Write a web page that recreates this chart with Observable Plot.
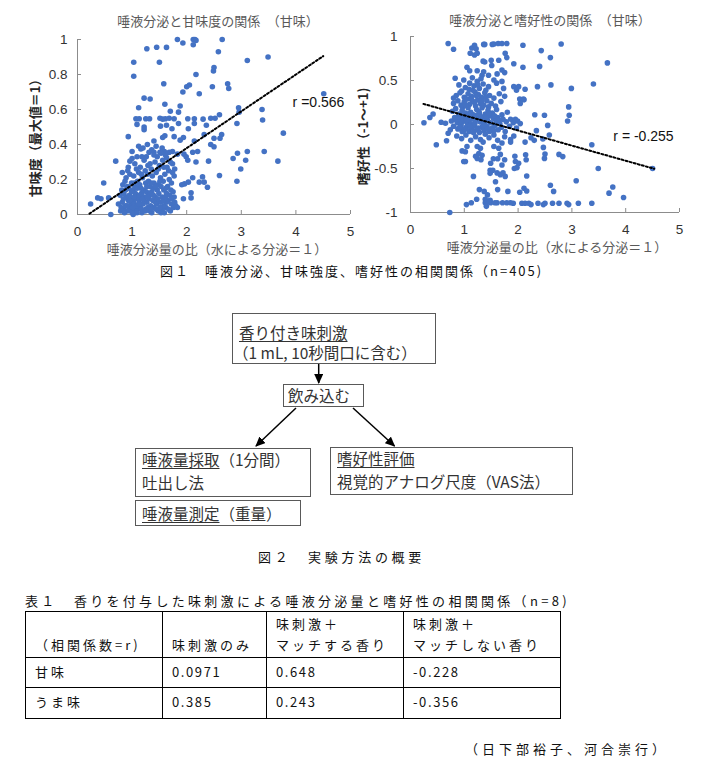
<!DOCTYPE html>
<html><head><meta charset="utf-8">
<script src="https://cdn.jsdelivr.net/npm/d3@7"></script>
<script src="https://cdn.jsdelivr.net/npm/@observablehq/plot@0.6"></script>
<style>
body{margin:0;background:#fff;}
#page{position:relative;width:703px;height:774px;overflow:hidden;font-family:"Noto Sans CJK JP",sans-serif;color:#000;background:#fff}
.abs{position:absolute;white-space:nowrap}
.cap{font-size:13px;line-height:16px;color:#111}
.box{position:absolute;box-sizing:border-box;border:1px solid #595959;background:#fff;font-size:15.5px;color:#333;white-space:nowrap}
.box u{text-decoration-thickness:1px;text-underline-offset:2px}
table.t{position:absolute;left:25px;top:611px;border-collapse:collapse;font-size:13px;color:#111}
table.t td{border:1px solid #000;padding:0 0 0 9px;letter-spacing:3px;white-space:nowrap}
table.t td.num{letter-spacing:1.6px}
</style></head>
<body><div id="page"></div>
<script>
// ---------- data ----------
const xTicks = [0, 1, 2, 3, 4, 5];
const sweetTicks = [0, 0.2, 0.4, 0.6, 0.8, 1];
const prefTicks = [-1, -0.5, 0, 0.5, 1];
const xLabel = "唾液分泌量の比（水による分泌＝１）";

// saliva ratio vs sweetness (x, y)
const sweetPoints = [
[1.83,1.0],[1.93,0.98],[2.12,1.0],[2.15,1.0],[2.17,0.995],[2.12,0.97],[2.65,1.0],
[1.27,0.947],[1.45,0.956],[1.63,0.955],[2.58,0.93],
[1.03,0.87],[1.50,0.87],[3.11,0.88],[3.49,0.90],
[1.03,0.79],[2.50,0.84],[2.49,0.82],[2.17,0.80],
[1.58,0.747],[2.05,0.74],[2.00,0.73],[2.75,0.747],[2.77,0.72],[2.47,0.73],[1.93,0.70],[2.23,0.69],[4.51,0.69],
[1.22,0.665],[1.33,0.66],[1.12,0.61],[1.60,0.63],[1.88,0.62],[1.70,0.59],[1.85,0.585],[2.95,0.61],[2.96,0.585],[3.38,0.60],[3.39,0.54],[2.60,0.57],
[1.07,0.547],[1.13,0.547],[1.25,0.547],[1.32,0.547],[1.51,0.55],[1.56,0.545],[1.61,0.547],[1.68,0.55],[1.77,0.547],[2.02,0.547],[2.14,0.547],[2.30,0.545],[2.44,0.55],[2.52,0.55],
[1.09,0.515],[1.22,0.50],[1.52,0.505],[1.63,0.51],[1.73,0.49],[1.85,0.52],[2.03,0.49],[2.14,0.52],[2.36,0.51],[2.92,0.52],[0.93,0.445],[3.77,0.465],
[1.22,0.485],[1.40,0.42],[1.60,0.45],[1.56,0.44],[1.77,0.445],[1.94,0.44],[1.88,0.425],[2.32,0.457],[2.44,0.40],[2.50,0.436],[2.61,0.436],[2.64,0.457],[2.50,0.387],[2.14,0.42],
[1.31,0.356],[1.40,0.356],[1.51,0.356],[1.59,0.36],[1.68,0.356],[1.74,0.36],[1.83,0.345],[1.95,0.345],[2.11,0.356],[2.20,0.36],
[3.42,0.36],[3.11,0.36],[2.93,0.35],[2.85,0.32],[3.08,0.31],[2.99,0.26],[3.67,0.305],[0.70,0.305],[0.96,0.305],[1.09,0.33],[1.16,0.375],[1.12,0.39],
[2.40,0.305],[1.99,0.33],[2.02,0.31],[2.17,0.30],[1.63,0.325],[1.74,0.29],
[2.92,0.19],[2.60,0.223],[2.29,0.215],[2.11,0.21],[2.23,0.185],[2.32,0.185],[2.38,0.156],[2.03,0.185],[1.96,0.175],[1.91,0.17],[0.48,0.18],
[2.08,0.124],[2.08,0.095],[1.94,0.09],[1.77,0.10],[1.83,0.04],
[0.24,0.06],[0.37,0.095],[0.43,0.09],[0.57,0.095],[0.61,0.0],[1.02,0.0],
[0.85,0.03],[0.92,0.02],[0.97,0.04],[1.05,0.02],[1.10,0.03],[1.18,0.01],[1.25,0.03],[1.32,0.02],[1.40,0.04],[1.48,0.02],[1.55,0.03],[1.62,0.04],[1.70,0.02],[0.80,0.04],[1.00,0.01],[1.15,0.04],[1.36,0.01],[1.59,0.01],[1.76,0.04],
[0.75,0.06],[0.82,0.07],[0.88,0.05],[0.93,0.08],[0.98,0.06],[1.03,0.07],[1.08,0.05],[1.13,0.08],[1.20,0.06],[1.27,0.07],[1.34,0.05],[1.38,0.08],[1.45,0.06],[1.52,0.07],[1.58,0.05],[1.66,0.08],[1.72,0.06],[1.80,0.05],[0.90,0.10],[1.00,0.09],
[0.78,0.11],[0.85,0.12],[0.95,0.11],[1.06,0.12],[1.11,0.10],[1.17,0.12],[1.23,0.10],[1.30,0.11],[1.36,0.13],[1.42,0.10],[1.49,0.12],[1.55,0.10],[1.63,0.12],[1.69,0.11],[1.75,0.13],[0.88,0.14],[1.02,0.14],[1.21,0.14],[1.46,0.14],
[0.83,0.17],[0.91,0.16],[0.99,0.18],[1.05,0.16],[1.14,0.17],[1.25,0.18],[1.33,0.16],[1.40,0.18],[1.48,0.17],[1.57,0.19],[1.65,0.16],[1.72,0.18],[0.87,0.19],[1.10,0.19],[1.30,0.19],
[0.89,0.21],[0.96,0.23],[1.03,0.22],[1.12,0.24],[1.19,0.21],[1.28,0.23],[1.37,0.22],[1.44,0.24],[1.52,0.21],[1.60,0.23],[1.67,0.25],[1.77,0.22],[0.82,0.24],[1.24,0.25],
[0.93,0.27],[1.05,0.29],[1.15,0.27],[1.22,0.31],[1.29,0.28],[1.35,0.26],[1.42,0.30],[1.50,0.28],[1.56,0.31],[1.64,0.27],[1.70,0.30],[1.78,0.26],[1.00,0.32],[1.26,0.33],[1.46,0.33],[1.61,0.34],
[1.20,0.38],[1.28,0.40],[1.36,0.37],[1.44,0.39],[1.55,0.38],[1.00,0.36],
[0.95,0.03],[1.07,0.09],[1.12,0.06],[1.17,0.03],[1.22,0.08],[1.29,0.04],[1.31,0.09],[1.43,0.07],[0.99,0.13],[1.09,0.15],[1.26,0.13],[1.51,0.04],[1.63,0.07],[1.39,0.15],[1.58,0.14],[0.84,0.09],[0.79,0.02],[1.33,0.12],[1.53,0.16],[1.68,0.20],
[0.86,0.01],[0.91,0.05],[0.96,0.08],[1.01,0.04],[1.04,0.10],[1.09,0.01],[1.14,0.11],[1.19,0.09],[1.24,0.02],[1.28,0.10],[1.35,0.03],[1.39,0.11],[1.44,0.03],[1.47,0.09],[1.53,0.01],[1.57,0.08],[1.61,0.10],[1.67,0.03],[1.73,0.09],[1.78,0.07],
[0.81,0.14],[0.94,0.15],[1.04,0.18],[1.16,0.15],[1.27,0.16],[1.35,0.18],[1.43,0.16],[1.51,0.19],[1.62,0.15],[1.71,0.14],[0.92,0.25],[1.08,0.26],[1.17,0.23],[1.33,0.29],[1.48,0.26],[1.58,0.27],[1.74,0.24],[1.40,0.34],[1.53,0.35],[1.18,0.33]
];

// saliva ratio vs preference (x, y)
const prefPoints = [
[0.70,0.92],[0.80,0.855],[1.14,0.87],[1.19,0.90],[1.22,0.86],[1.36,0.91],[1.38,0.91],[1.52,0.91],[1.55,0.915],[1.63,0.92],[1.70,0.92],[1.79,0.92],[2.09,0.90],[2.80,0.915],
[1.11,0.81],[1.19,0.79],[1.24,0.81],[1.76,0.81],[1.79,0.76],[2.43,0.84],[2.60,0.76],
[1.35,0.72],[1.38,0.71],[1.50,0.73],[1.64,0.73],[1.51,0.67],[1.70,0.62],[1.05,0.65],[1.10,0.61],[1.24,0.61],[1.33,0.56],[1.92,0.69],[2.09,0.65],[2.40,0.66],[3.66,0.70],
[1.36,0.60],[1.61,0.575],[1.75,0.59],[0.83,0.525],[0.99,0.505],[1.24,0.49],[1.55,0.505],[1.70,0.49],[1.73,0.41],[1.92,0.43],[2.01,0.43],[2.13,0.40],[1.97,0.39],[2.36,0.43],[2.61,0.45],[2.99,0.41],[3.40,0.46],[2.03,0.29],[2.10,0.29],[2.11,0.28],[2.04,0.24],
[2.94,0.20],[2.95,0.105],[2.92,0.04],[2.31,0.11],[2.49,0.105],[2.55,-0.01],[2.34,-0.07],[2.58,-0.12],[2.46,-0.165],[3.37,-0.23],[2.47,-0.26],[2.50,-0.335],[2.49,-0.385],[2.76,-0.34],[2.83,-0.365],
[1.86,0.06],[1.95,0.06],[1.99,0.04],[2.04,0.01],[1.86,-0.20],[1.92,-0.13],[2.13,-0.20],[2.24,-0.15],[2.30,-0.18],
[1.95,-0.42],[1.98,-0.49],[2.01,-0.44],[1.93,-0.50],[2.15,-0.40],[2.14,-0.345],[2.16,-0.585],[2.11,-0.725],[2.16,-0.755],[2.03,-0.77],
[2.60,-0.69],[2.66,-0.76],[3.08,-0.64],[3.49,-0.50],[4.50,-0.50],[3.76,-0.71],[3.69,-0.78],[3.96,-0.83],
[1.91,-0.895],[2.07,-0.895],[2.13,-0.895],[2.20,-0.895],[2.24,-0.91],[2.37,-0.895],[2.47,-0.91],[2.50,-0.895],[2.64,-0.895],[2.76,-0.895],[2.91,-0.895],[2.94,-0.91],[3.12,-0.895],[3.37,-0.895],
[1.39,-0.89],[1.49,-0.89],[1.61,-0.89],[1.71,-0.89],[1.79,-0.89],[1.41,-0.93],[1.04,-0.91],[1.13,-0.89],[1.23,-0.85],[0.73,-1.0],
[0.96,-0.30],[1.02,-0.31],[0.99,-0.42],[1.02,-0.42],[1.17,-0.59],[1.05,-0.25],[1.24,-0.25],[1.30,-0.27],[1.27,-0.33],[1.33,-0.35],[1.24,-0.385],[1.31,-0.40],[1.21,-0.36],[1.48,-0.52],[1.48,-0.555],[1.53,-0.52],[1.49,-0.44],[1.54,-0.39],[1.64,-0.27],[1.67,-0.34],[1.62,-0.39],[1.70,-0.46],[1.67,-0.57],[1.58,-0.65],[1.62,-0.74],[1.76,-0.59],[1.81,-0.76],[1.28,-0.74],[1.37,-0.76],[1.43,-0.80],[1.48,-0.86],[1.39,-0.85],[1.46,-0.88],[1.57,-0.89],[1.86,-0.89],[1.72,-0.55],[1.61,-0.55],[1.75,-0.40],[1.94,-0.36],[1.55,-0.25],[1.70,-0.21],[1.86,-0.17],
[0.48,-0.23],[0.67,-0.185],[0.25,0.02],[0.36,0.08],[0.42,0.12],[0.57,0.025],[0.65,0.015],[0.70,-0.10],[0.74,-0.06],[0.96,-0.08],
[0.90,0.45],[1.02,0.42],[1.10,0.47],[1.18,0.44],[1.28,0.41],[1.35,0.46],[1.45,0.43],[1.60,0.47],[0.95,0.38],[1.40,0.39],
[0.85,0.33],[0.92,0.36],[1.00,0.31],[1.07,0.35],[1.13,0.32],[1.20,0.37],[1.26,0.34],[1.32,0.31],[1.38,0.36],[1.47,0.33],[1.55,0.30],[1.65,0.35],[1.75,0.32],[0.80,0.30],[1.16,0.39],
[0.80,0.24],[0.88,0.27],[0.94,0.22],[1.00,0.26],[1.05,0.29],[1.10,0.23],[1.15,0.27],[1.21,0.21],[1.25,0.28],[1.30,0.24],[1.36,0.22],[1.42,0.27],[1.50,0.24],[1.58,0.21],[1.68,0.26],[0.97,0.20],[1.19,0.25],[1.45,0.20],
[0.78,0.15],[0.84,0.18],[0.90,0.12],[0.96,0.16],[1.02,0.13],[1.07,0.19],[1.12,0.14],[1.17,0.11],[1.23,0.17],[1.28,0.13],[1.33,0.19],[1.39,0.12],[1.44,0.16],[1.52,0.13],[1.60,0.17],[1.70,0.11],[1.80,0.14],[1.05,0.10],[1.26,0.10],[1.48,0.10],
[0.76,0.04],[0.82,0.08],[0.87,0.02],[0.92,0.06],[0.97,0.03],[1.01,0.07],[1.06,0.01],[1.10,0.05],[1.15,0.08],[1.20,0.02],[1.24,0.06],[1.29,0.03],[1.34,0.07],[1.38,0.01],[1.43,0.05],[1.49,0.02],[1.54,0.07],[1.59,0.04],[1.66,0.01],[1.72,0.06],[1.78,0.03],[0.85,0.05],[1.13,0.00],[1.31,0.09],[1.62,0.08],
[0.80,-0.02],[0.88,-0.05],[0.94,-0.01],[0.99,-0.07],[1.04,-0.03],[1.09,-0.08],[1.14,-0.04],[1.19,-0.01],[1.23,-0.06],[1.28,-0.09],[1.33,-0.03],[1.37,-0.07],[1.42,-0.02],[1.47,-0.08],[1.52,-0.04],[1.57,-0.01],[1.63,-0.06],[1.69,-0.03],[1.76,-0.08],[1.84,-0.02],[1.91,0.02],[1.97,-0.04],
[0.86,-0.13],[0.95,-0.16],[1.03,-0.12],[1.12,-0.18],[1.21,-0.14],[1.30,-0.17],[1.39,-0.11],[1.46,-0.15],[1.55,-0.12],[1.62,-0.18],[1.75,-0.14],[1.35,-0.20],
[0.89,0.09],[0.95,0.10],[1.04,0.05],[1.08,0.12],[1.18,0.06],[1.22,0.10],[1.27,0.15],[1.36,0.04],[1.41,0.09],[1.46,0.13],[1.56,0.10],[1.65,0.05],[0.92,-0.03],[1.01,-0.05],[1.11,-0.02],[1.17,-0.09],[1.26,-0.04],[1.35,-0.01],[1.44,-0.05],[1.55,-0.07],
[1.03,0.22],[1.13,0.29],[1.22,0.33],[1.33,0.27],[1.40,0.31],[1.09,0.40],[1.25,0.45],[1.31,0.52],[1.15,0.53],[1.45,0.56]
];

// dotted trend lines
const sweetFit = [[0.22, 0.005], [4.5, 0.905]];
const prefFit = [[0.24, 0.234], [4.53, -0.503]];

// figure texts
const fig1Caption = "図１　唾液分泌、甘味強度、嗜好性の相関関係（n=405)";
const fig2Caption = "図２　実験方法の概要";
const tableCaption = "表１　香りを付与した味刺激による唾液分泌量と嗜好性の相関関係（n=8)";
const credit = "（日下部裕子、河合崇行）";
const tableHeader = [["", "（相関係数=r)"], ["", "味刺激のみ"], ["味刺激＋", "マッチする香り"], ["味刺激＋", "マッチしない香り"]];
const tableRows = [["甘味", "0.0971", "0.648", "-0.228"], ["うま味", "0.385", "0.243", "-0.356"]];

// ---------- drawing ----------
const page = document.getElementById("page");
const axisGray = "#8c8c8c";
const cjk = "'Noto Sans CJK JP', sans-serif";

function scatter(o) {
  return Plot.plot({
    width: o.width, height: o.height,
    marginTop: o.mt, marginRight: o.mr, marginBottom: o.mb, marginLeft: o.ml,
    style: {fontFamily: "'Liberation Sans', Arial, 'Noto Sans CJK JP', sans-serif", fontSize: "13.5px", color: "#333", background: "transparent", overflow: "visible"},
    x: {domain: [0, 5]},
    y: {domain: o.yDomain},
    marks: [
      Plot.ruleX([0], {stroke: axisGray}),
      Plot.ruleY([o.yDomain[0]], {stroke: axisGray}),
      Plot.axisX({ticks: xTicks, tickSize: -4, tickPadding: 16, tickFormat: d => String(d), label: null, stroke: axisGray, fill: "#333"}),
      Plot.axisY({ticks: o.yTicks, tickSize: -4, tickPadding: o.yPad, tickFormat: d => String(d), label: null, stroke: axisGray, fill: "#333"}),
      Plot.dot(o.points, {x: d => d[0], y: d => d[1], r: 2.8, fill: "#4472C4"}),
      Plot.line(o.fit, {x: d => d[0], y: d => d[1], stroke: "#000", strokeWidth: 2, strokeDasharray: "2,2.2"}),
      Plot.text([o.rText], {text: d => d, x: o.rAt[0], y: o.rAt[1], textAnchor: "start", fontSize: 14, fill: "#111"}),
      Plot.text([o.title], {text: d => d, frameAnchor: "top", textAnchor: "middle", lineAnchor: "middle", dx: o.titleDx, dy: o.titleDy, fontSize: 13, fill: "#595959", fontFamily: cjk}),
      Plot.text([xLabel], {text: d => d, frameAnchor: "bottom", textAnchor: "middle", lineAnchor: "middle", dx: o.xLabelDx, dy: 35, fontSize: 13, fill: "#595959", fontFamily: cjk}),
      Plot.text([o.yLabel], {text: d => d, frameAnchor: "left", textAnchor: "middle", lineAnchor: "middle", rotate: -90, dx: o.yLabelDx, dy: o.yLabelDy, fontSize: 13, fontWeight: "bold", fill: "#262626", fontFamily: cjk})
    ]
  });
}

function place(el, left, top) {
  const w = document.createElement("div");
  w.className = "abs";
  w.style.left = left + "px"; w.style.top = top + "px";
  w.appendChild(el);
  page.appendChild(w);
  return w;
}

place(scatter({
  width: 365, height: 262, mt: 39, mr: 15, mb: 48, ml: 77,
  yDomain: [0, 1], yTicks: sweetTicks, yPad: 14,
  points: sweetPoints, fit: sweetFit,
  rText: "r =0.566", rAt: [3.94, 0.64],
  title: "唾液分泌と甘味度の関係　（甘味）", titleDx: 4, titleDy: -18,
  xLabelDx: 3,
  yLabel: "甘味度（最大値＝1）", yLabelDx: -42, yLabelDy: 8
}), 0, 0);

place(scatter({
  width: 348, height: 262, mt: 36, mr: 24, mb: 50, ml: 55,
  yDomain: [-1, 1], yTicks: prefTicks, yPad: 17,
  points: prefPoints, fit: prefFit,
  rText: "r = -0.255", rAt: [3.77, -0.14],
  title: "唾液分泌と嗜好性の関係　（甘味）", titleDx: 5, titleDy: -16,
  xLabelDx: 12,
  yLabel: "嗜好性（-1～+1)", yLabelDx: -47, yLabelDy: 12
}), 355, 0);

function caption(text, left, top, spacing) {
  const d = document.createElement("div");
  d.className = "abs cap";
  d.style.left = left + "px"; d.style.top = top + "px";
  d.style.letterSpacing = spacing + "px";
  d.textContent = text;
  page.appendChild(d);
}
caption(fig1Caption, 160, 263, 2);
caption(fig2Caption, 258, 549, 3.7);
caption(tableCaption, 25, 593, 3.3);
caption(credit, 465, 741, 4);

// ---------- flow diagram ----------
function box(left, top, w, h, lines) {
  const d = document.createElement("div");
  d.className = "box";
  Object.assign(d.style, {left: left + "px", top: top + "px", width: w + "px", height: h + "px"});
  lines.forEach(l => {
    const r = document.createElement("div");
    Object.assign(r.style, {height: l.h + "px", lineHeight: l.h + "px", paddingLeft: l.pl + "px", marginTop: (l.mt || 0) + "px"});
    r.innerHTML = l.html;
    d.appendChild(r);
  });
  page.appendChild(d);
}
box(232, 313, 204, 51, [{html: "<u>香り付き味刺激</u>", h: 20, pl: 6, mt: 8}, {html: "（1 mL, 10秒間口に含む）", h: 20, pl: 0}]);
box(283, 384, 81, 23, [{html: "飲み込む", h: 21, pl: 4}]);
box(135, 448, 176, 49, [{html: "<u>唾液量採取</u>（1分間）", h: 20, pl: 6}, {html: "吐出し法", h: 23, pl: 6, mt: 2}]);
box(135, 500, 166, 26, [{html: "<u>唾液量測定</u>（重量）", h: 24, pl: 6}]);
box(330, 447, 243, 48, [{html: "<u>嗜好性評価</u>", h: 21, pl: 6}, {html: "視覚的アナログ尺度（VAS法）", h: 23, pl: 6, mt: 1}]);

const svgNS = "http://www.w3.org/2000/svg";
const arrows = document.createElementNS(svgNS, "svg");
arrows.setAttribute("width", 703); arrows.setAttribute("height", 774);
Object.assign(arrows.style, {position: "absolute", left: "0px", top: "0px", pointerEvents: "none"});
arrows.innerHTML = `<defs><marker id="ah" markerUnits="userSpaceOnUse" markerWidth="10" markerHeight="9" refX="9" refY="4.5" orient="auto"><path d="M0,0L10,4.5L0,9z" fill="#000"/></marker></defs>
<g stroke="#000" stroke-width="1.5" fill="none">
<line x1="318.7" y1="364" x2="318.7" y2="383" marker-end="url(#ah)"/>
<line x1="296" y1="408" x2="256" y2="446" marker-end="url(#ah)"/>
<line x1="353" y1="408" x2="394.5" y2="446" marker-end="url(#ah)"/>
</g>`;
page.appendChild(arrows);

// ---------- table ----------
const table = document.createElement("table");
table.className = "t";
const colW = [137, 104, 137, 157];
const cg = document.createElement("colgroup");
colW.forEach(w => { const c = document.createElement("col"); c.style.width = w + "px"; cg.appendChild(c); });
table.appendChild(cg);
const hr = document.createElement("tr");
hr.style.height = "46px";
tableHeader.forEach(h => {
  const td = document.createElement("td");
  td.style.verticalAlign = "top";
  td.style.paddingTop = "1px";
  td.innerHTML = `<div style="height:21px;line-height:21px">${h[0] || "&nbsp;"}</div><div style="height:21px;line-height:21px">${h[1]}</div>`;
  hr.appendChild(td);
});
table.appendChild(hr);
tableRows.forEach((row, i) => {
  const tr = document.createElement("tr");
  tr.style.height = (i === 0 ? 30 : 31) + "px";
  row.forEach((v, j) => {
    const td = document.createElement("td");
    if (j > 0) td.className = "num";
    td.style.verticalAlign = "top";
    td.style.paddingTop = "4px";
    td.textContent = v;
    tr.appendChild(td);
  });
  table.appendChild(tr);
});
page.appendChild(table);
</script>
</body></html>
